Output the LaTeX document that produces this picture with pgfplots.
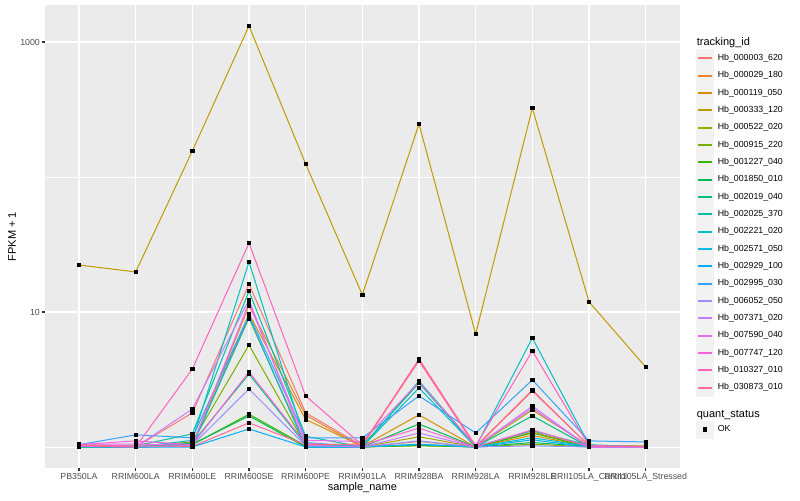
\documentclass[border=0pt]{standalone}
\usepackage{fontspec}
\setmainfont{Liberation Sans}
\usepackage{pgfplots}
\pgfplotsset{compat=1.18}
\usepackage{pgfplotstable}

% ggplot hue palette, 20 levels
\definecolor{c1}{HTML}{F8766D}
\definecolor{c2}{HTML}{EA8331}
\definecolor{c3}{HTML}{D89000}
\definecolor{c4}{HTML}{C09B00}
\definecolor{c5}{HTML}{A3A500}
\definecolor{c6}{HTML}{7CAE00}
\definecolor{c7}{HTML}{39B600}
\definecolor{c8}{HTML}{00BB4E}
\definecolor{c9}{HTML}{00BF7D}
\definecolor{c10}{HTML}{00C1A3}
\definecolor{c11}{HTML}{00BFC4}
\definecolor{c12}{HTML}{00BAE0}
\definecolor{c13}{HTML}{00B0F6}
\definecolor{c14}{HTML}{35A2FF}
\definecolor{c15}{HTML}{9590FF}
\definecolor{c16}{HTML}{C77CFF}
\definecolor{c17}{HTML}{E76BF3}
\definecolor{c18}{HTML}{FA62DB}
\definecolor{c19}{HTML}{FF62BC}
\definecolor{c20}{HTML}{FF6C91}
\definecolor{gray92}{HTML}{EBEBEB}
\definecolor{gray95}{HTML}{F2F2F2}
\definecolor{gray20}{HTML}{333333}
\definecolor{gray30}{HTML}{4D4D4D}

% FPKM + 1, one column per tracking_id; x = sample index
\pgfplotstableread{
x  s1   s2   s3   s4   s5   s6   s7   s8   s9   s10  s11  s12  s13  s14  s15  s16  s17  s18  s19  s20
0  1.02 1.01 1.00 22.3 1.01 1.00 1.02 1.00 1.01 1.03 1.01 1.00 1.02 1.04 1.03 1.01 1.05 1.04 1.02 1.03
1  1.00 1.00 1.00 19.8 1.00 1.00 1.00 1.00 1.00 1.02 1.00 1.00 1.00 1.23 1.00 1.00 1.05 1.11 1.00 1.02
2  1.79 1.03 1.02 156  1.06 1.09 1.04 1.05 1.07 1.25 1.12 1.02 1.00 1.17 1.03 1.91 1.03 1.04 3.78 1.01
3  16.1 11.1 9.7  1314 9.0  5.7  1.75 1.70 3.47 14.3 23.5 9.2  1.36 9.5  2.69 12.3 11.7 3.6  32.4 1.51
4  1.79 1.72 1.60 125  1.05 1.03 1.02 1.00 1.04 1.20 1.08 1.00 1.00 1.17 1.02 1.03 1.12 1.06 2.39 1.04
5  1.02 1.00 1.01 13.4 1.00 1.00 1.00 1.00 1.02 1.00 1.00 1.00 1.00 1.17 1.00 1.00 1.10 1.03 1.03 1.05
6  4.40 1.10 1.73 247  1.19 1.02 1.03 1.48 2.98 3.08 2.74 1.04 1.05 2.39 1.11 1.27 3.02 1.38 4.49 4.34
7  1.01 1.00 1.00 6.87 1.00 1.00 1.00 1.00 1.00 1.01 1.00 1.00 1.00 1.27 1.00 1.00 1.02 1.00 1.02 1.00
8  2.64 1.29 1.22 324  1.88 1.05 1.27 1.08 1.70 1.32 6.42 1.17 1.13 3.14 1.02 2.01 1.94 1.34 5.14 2.60
9  1.02 1.01 1.00 11.9 1.02 1.00 1.00 1.01 1.00 1.03 1.04 1.01 1.00 1.11 1.00 1.00 1.00 1.01 1.02 1.02
10 1.00 1.00 1.00 3.91 1.02 1.00 1.00 1.00 1.00 1.00 1.00 1.00 1.00 1.09 1.00 1.00 1.00 1.01 1.01 1.01
}\fpkm

\pgfplotsset{
  keyline/.style={legend image code/.code={
    \fill[gray95] (0pt,-6.375pt) rectangle (12.75pt,6.375pt);
    \draw[##1,line width=1.4pt] (1.3pt,0pt) -- (11.45pt,0pt);
  }},
  keymark/.style={legend image code/.code={
    \fill[gray95] (0pt,-6.375pt) rectangle (12.75pt,6.375pt);
    \fill[black] (4.9pt,-1.4pt) rectangle (7.7pt,1.4pt);
  }},
}

\begin{document}
\begin{tikzpicture}
\path[use as bounding box] (0,0) rectangle (600pt,375pt);
\begin{axis}[
  at={(33.75pt,24pt)}, anchor=south west,
  scale only axis, width=476pt, height=347.25pt,
  ymode=log, ymin=0.699, ymax=1880,
  xmin=-0.6, xmax=10.6,
  xtick={0,...,10},
  xticklabels={PB350LA,RRIM600LA,RRIM600LE,RRIM600SE,RRIM600PE,RRIM901LA,RRIM928BA,RRIM928LA,RRIM928LE,RRII105LA\_Control,RRII105LA\_Stressed},
  ytick={10,1000}, yticklabels={10,1000},
  minor ytick={1,100},
  grid=both,
  major grid style={white,line width=0.8pt},
  minor grid style={white,line width=0.4pt},
  axis line style={draw=none},
  axis background/.style={fill=gray92},
  xtick pos=bottom, ytick pos=left,
  tick align=outside, major tick length=2.06pt, minor tick length=0pt,
  tick style={gray20,line width=0.8pt},
  tick label style={font=\fontsize{6.6}{7.5}\selectfont, text=gray30},
  xticklabel style={inner sep=0pt, yshift=-1.6pt},
  yticklabel style={inner sep=0pt, xshift=-1.6pt},
  /pgf/number format/assume math mode=true,
  xlabel={sample\_name}, ylabel={FPKM + 1},
  label style={font=\fontsize{8.25}{9}\selectfont},
  xlabel style={at={(axis description cs:0.5,0)}, anchor=center, yshift=-14.5pt},
  ylabel style={at={(axis description cs:0,0.5)}, anchor=center, yshift=24.75pt},
  legend cell align=left,
  legend style={at={(1.025,0.933)}, anchor=north west, draw=none, fill=none,
    inner sep=0pt, row sep=-0.5pt, column sep=3pt,
    font=\fontsize{6.6}{7.5}\selectfont, nodes={inner sep=0pt}},
]
\addlegendimage{empty legend}
\addlegendentry{\fontsize{8.25}{9}\selectfont\hspace*{-15.75pt}\smash{\raisebox{1.6pt}{tracking\_id}}\rule[-5.9pt]{0pt}{14.65pt}}
\pgfplotsinvokeforeach{1,...,20}{
  \addplot[c#1, line width=0.75pt, keyline] table[x=x, y=s#1]{\fpkm};
}
\addlegendentry{Hb\_000003\_620}
\addlegendentry{Hb\_000029\_180}
\addlegendentry{Hb\_000119\_050}
\addlegendentry{Hb\_000333\_120}
\addlegendentry{Hb\_000522\_020}
\addlegendentry{Hb\_000915\_220}
\addlegendentry{Hb\_001227\_040}
\addlegendentry{Hb\_001850\_010}
\addlegendentry{Hb\_002019\_040}
\addlegendentry{Hb\_002025\_370}
\addlegendentry{Hb\_002221\_020}
\addlegendentry{Hb\_002571\_050}
\addlegendentry{Hb\_002929\_100}
\addlegendentry{Hb\_002995\_030}
\addlegendentry{Hb\_006052\_050}
\addlegendentry{Hb\_007371\_020}
\addlegendentry{Hb\_007590\_040}
\addlegendentry{Hb\_007747\_120}
\addlegendentry{Hb\_010327\_010}
\addlegendentry{Hb\_030873\_010}
\addlegendimage{empty legend}
\addlegendentry{\fontsize{8.25}{9}\selectfont\hspace*{-15.75pt}\smash{\raisebox{1.5pt}{quant\_status}}\rule[-6.4pt]{0pt}{23.9pt}}
\addlegendimage{keymark}
\addlegendentry{OK}
% points on top of all lines
\pgfplotsinvokeforeach{1,...,20}{
  \addplot[forget plot, only marks, mark=square*, mark size=1.25pt, black] table[x=x, y=s#1]{\fpkm};
}
\end{axis}
\end{tikzpicture}
\end{document}
